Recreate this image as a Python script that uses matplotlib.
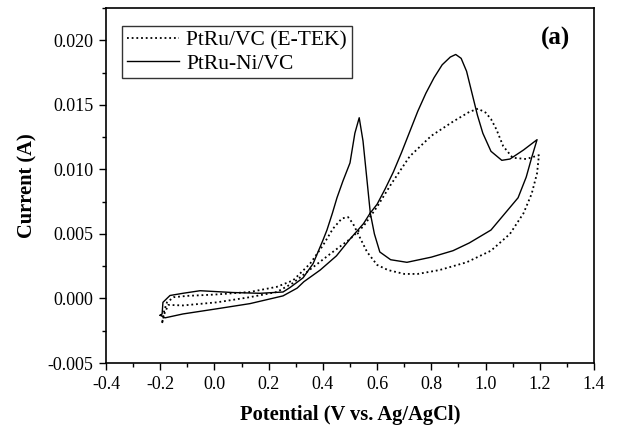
import matplotlib
matplotlib.use("Agg")
import matplotlib.pyplot as plt
from matplotlib.ticker import MultipleLocator

plt.rcParams['font.family'] = ['Liberation Serif', 'DejaVu Serif']

# PtRu/VC (E-TEK) - dotted curve (forward then reverse scan)
etek_v = [-0.193, -0.185, -0.17, -0.116, 0.009, 0.131, 0.23, 0.29, 0.35, 0.43, 0.50,
          0.55, 0.60, 0.65, 0.72, 0.80, 0.88, 0.94, 0.972, 1.00, 1.02, 1.04, 1.065,
          1.10, 1.15, 1.197,
          1.19, 1.17, 1.14, 1.09, 1.02, 0.93, 0.83, 0.75, 0.70, 0.64, 0.60, 0.563,
          0.537, 0.511, 0.493, 0.47, 0.437, 0.40, 0.353, 0.29, 0.23, 0.13, 0.0,
          -0.1, -0.15, -0.175, -0.185, -0.193]
etek_i = [-0.0019, -0.0012, -0.0005, -0.00054, -0.0003, 0.0001, 0.0005, 0.0012, 0.0022,
          0.0035, 0.0046, 0.0056, 0.0071, 0.0088, 0.0110, 0.0126, 0.0137, 0.01445,
          0.0147, 0.0144, 0.0139, 0.0131, 0.0118, 0.0109, 0.0108, 0.0111,
          0.0097, 0.0081, 0.0066, 0.0050, 0.0037, 0.0028, 0.0022, 0.0019, 0.0019,
          0.0022, 0.0026, 0.0036, 0.0047, 0.0058, 0.0063, 0.0062, 0.0054, 0.0041,
          0.0027, 0.0014, 0.0009, 0.0005, 0.0003, 0.0002, 0.0001, -0.0003, -0.0009,
          -0.0019]

# PtRu-Ni/VC - solid curve (forward then reverse scan)
ni_v = [-0.20, -0.182, -0.116, 0.009, 0.131, 0.253, 0.305, 0.33, 0.39, 0.45, 0.50,
        0.55, 0.574, 0.60, 0.63, 0.66, 0.69, 0.72, 0.75, 0.78, 0.81, 0.84, 0.87,
        0.89, 0.91, 0.93, 0.95, 0.97, 0.99, 1.02, 1.06, 1.09, 1.14, 1.19,
        1.17, 1.15, 1.12, 1.08, 1.02, 0.94, 0.88, 0.80, 0.71, 0.65, 0.61, 0.59,
        0.575, 0.563, 0.548, 0.534, 0.518, 0.50, 0.474, 0.452, 0.435, 0.415, 0.40,
        0.364, 0.327, 0.279, 0.253, 0.168, 0.068, -0.053, -0.116, -0.164, -0.19,
        -0.193, -0.20]
ni_i = [-0.0013, -0.0015, -0.0012, -0.0008, -0.0004, 0.0002, 0.0008, 0.0013, 0.0022,
        0.0033, 0.0046, 0.0058, 0.0066, 0.0073, 0.0085, 0.0098, 0.0113, 0.0129,
        0.0145, 0.0159, 0.0171, 0.0181, 0.0187, 0.0189, 0.0186, 0.0176, 0.0159,
        0.0142, 0.0128, 0.0114, 0.0107, 0.0108, 0.0115, 0.0123,
        0.0109, 0.0094, 0.0078, 0.0068, 0.0053, 0.0043, 0.0037, 0.0032, 0.0028,
        0.0030, 0.0036, 0.0050, 0.0066, 0.0091, 0.0122, 0.0140, 0.0128, 0.0105,
        0.0091, 0.0078, 0.0066, 0.0053, 0.0045, 0.0027, 0.0016, 0.00085, 0.0005,
        0.0004, 0.00046, 0.0006, 0.0004, 0.00023, -0.0003, -0.0012, -0.0013]

labels = ['PtRu/VC (E-TEK)', 'PtRu-Ni/VC']

fig = plt.figure(figsize=(6.17, 4.30), dpi=100)
ax = fig.add_axes([0.1718, 0.1558, 0.7909, 0.8256])

ax.plot(etek_v, etek_i, color='black', lw=1.3, linestyle=(0, (1.0, 1.6)),
        label=labels[0])
ax.plot(ni_v, ni_i, color='black', lw=1.0, linestyle='-', label=labels[1])

ax.set_xlim(-0.4, 1.4)
ax.set_ylim(-0.005, 0.0225)
ax.xaxis.set_minor_locator(MultipleLocator(0.1))
ax.yaxis.set_minor_locator(MultipleLocator(0.0025))
xt = [-0.4, -0.2, 0.0, 0.2, 0.4, 0.6, 0.8, 1.0, 1.2, 1.4]
ax.set_xticks(xt)
ax.set_xticklabels([f"{v:.1f}" for v in xt])
yt = [-0.005, 0.0, 0.005, 0.010, 0.015, 0.020]
ax.set_yticks(yt)
ax.set_yticklabels([f"{v:.3f}" for v in yt])

ax.tick_params(which='major', direction='out', length=5, width=1, labelsize=13,
               top=False, right=False, pad=4)
ax.tick_params(which='minor', direction='out', length=3, width=1,
               top=False, right=False)
for s in ax.spines.values():
    s.set_linewidth(1.2)

ax.set_xlabel('Potential (V vs. Ag/AgCl)', fontsize=14.8, fontweight='bold',
              labelpad=9)
ax.set_ylabel('Current (A)', fontsize=14.8, fontweight='bold', labelpad=7)

leg = ax.legend(loc='upper left', bbox_to_anchor=(0.033, 0.949), fontsize=15.5,
                frameon=True, fancybox=False, edgecolor='black',
                handlelength=2.4, handletextpad=0.35, borderpad=0.22,
                labelspacing=0.12, borderaxespad=0)
leg.get_frame().set_linewidth(1.0)

ax.text(0.922, 0.915, '(a)', transform=ax.transAxes, fontsize=18,
        fontweight='bold', ha='center', va='center')

fig.savefig('out.png', dpi=100)
